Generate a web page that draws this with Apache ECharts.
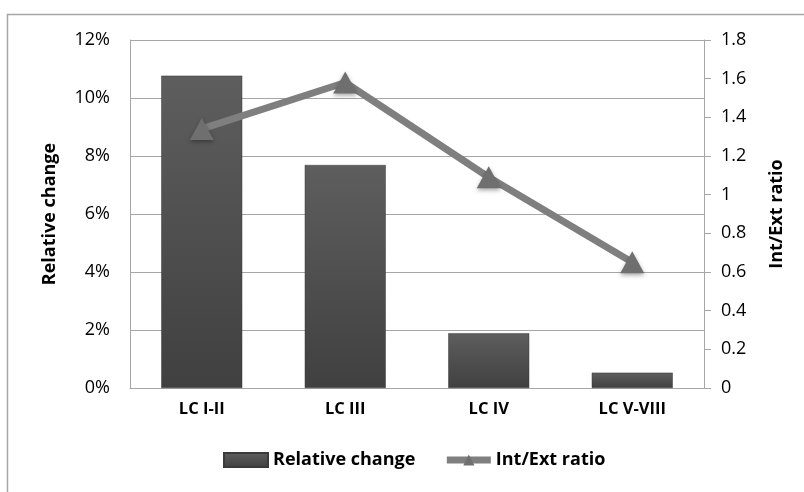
<!DOCTYPE html>
<html><head><meta charset="utf-8">
<script src="https://cdn.jsdelivr.net/npm/echarts@6/dist/echarts.min.js"></script>
<style>html,body{margin:0;padding:0;background:#fff}#c{width:804px;height:492px}</style>
</head><body><div id="c"></div>
<script>
const categories = ['LC I-II', 'LC III', 'LC IV', 'LC V-VIII'];
const relativeChange = [0.1077, 0.0769, 0.0189, 0.0053];
const intExtRatio = [1.34, 1.58, 1.09, 0.65];
const leftTicks = {min: 0, max: 0.12, interval: 0.02};
const rightTicks = {min: 0, max: 1.8, interval: 0.2};

const FONT = 'Open Sans';
const chart = echarts.init(document.getElementById('c'), null, {renderer: 'canvas'});
chart.setOption({
  animation: false,
  backgroundColor: '#fff',
  graphic: [{
    type: 'rect', shape: {x: 7.5, y: 14.5, width: 820, height: 500},
    style: {fill: 'none', stroke: '#a6a6a6', lineWidth: 1.5}, silent: true
  }],
  grid: {left: 130, right: 100, top: 40, bottom: 104},
  legend: {
    bottom: 18, left: 218, itemGap: 28, itemWidth: 44, itemHeight: 14,
    textStyle: {fontFamily: FONT, fontSize: 18, fontWeight: 'bold', color: '#000'},
    data: [
      {name: 'Relative change', icon: 'rect'},
      {name: 'Int/Ext ratio', lineStyle: {width: 7, color: '#7f7f7f'}}
    ]
  },
  xAxis: {
    type: 'category', data: categories,
    axisLine: {lineStyle: {color: '#a6a6a6', width: 1}},
    axisTick: {show: false},
    axisLabel: {fontFamily: FONT, fontSize: 16.5, fontWeight: 'bold', color: '#000', margin: 13}
  },
  yAxis: [{
    type: 'value', min: leftTicks.min, max: leftTicks.max, interval: leftTicks.interval,
    name: 'Relative change', nameLocation: 'middle', nameGap: 71, nameRotate: 90,
    nameTextStyle: {fontFamily: FONT, fontSize: 18, fontWeight: 'bold', color: '#000'},
    axisLine: {show: true, lineStyle: {color: '#a6a6a6'}},
    axisTick: {show: false},
    axisLabel: {fontFamily: FONT, fontSize: 18, color: '#000', margin: 20,
      formatter: v => Math.round(v * 100) + '%'},
    splitLine: {lineStyle: {color: '#a6a6a6', width: 1}}
  }, {
    type: 'value', min: rightTicks.min, max: rightTicks.max, interval: rightTicks.interval,
    name: 'Int/Ext ratio', nameLocation: 'middle', nameGap: 64, nameRotate: 90,
    nameTextStyle: {fontFamily: FONT, fontSize: 18, fontWeight: 'bold', color: '#000'},
    axisLine: {show: true, lineStyle: {color: '#a6a6a6'}},
    axisTick: {show: true, inside: false, length: 7, lineStyle: {color: '#a6a6a6'}},
    axisLabel: {fontFamily: FONT, fontSize: 18, color: '#000', margin: 17,
      formatter: v => String(Math.round(v * 10) / 10)},
    splitLine: {show: false}
  }],
  series: [{
    name: 'Relative change', type: 'bar', yAxisIndex: 0, data: relativeChange,
    barWidth: 81,
    itemStyle: {
      color: new echarts.graphic.LinearGradient(0, 0, 0, 1, [
        {offset: 0, color: '#5e5e5e'}, {offset: 1, color: '#404040'}
      ]),
      borderColor: '#3a3a3a', borderWidth: 0.5
    }
  }, {
    name: 'Int/Ext ratio', type: 'line', yAxisIndex: 1, data: intExtRatio,
    symbol: 'triangle', symbolSize: [24, 22],
    lineStyle: {color: '#7f7f7f', width: 7},
    itemStyle: {color: '#6f6f6f', shadowColor: 'rgba(0,0,0,0.35)', shadowBlur: 4, shadowOffsetY: 2},
    z: 5
  }]
});
</script></body></html>
